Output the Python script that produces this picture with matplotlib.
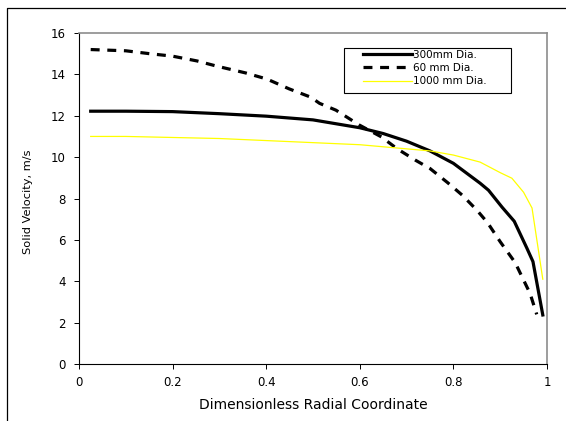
import matplotlib
matplotlib.use("Agg")
import matplotlib.pyplot as plt
from matplotlib.lines import Line2D
from matplotlib.patches import Rectangle

# Radial velocity profiles of the solid phase for three pipe diameters
r_300 = [0.025, 0.1, 0.2, 0.3, 0.4, 0.5, 0.6, 0.65, 0.7, 0.75, 0.8,
         0.857, 0.875, 0.904, 0.93, 0.957, 0.97, 0.991]
v_300 = [12.22, 12.22, 12.2, 12.1, 11.98, 11.8, 11.42, 11.14, 10.77, 10.3, 9.7,
         8.74, 8.4, 7.58, 6.9, 5.6, 4.95, 2.37]

r_60 = [0.025, 0.1, 0.151, 0.2, 0.252, 0.294, 0.356, 0.402, 0.449, 0.495, 0.514,
        0.549, 0.599, 0.646, 0.68, 0.719, 0.75, 0.788, 0.819, 0.85, 0.873,
        0.9, 0.932, 0.964, 0.978]
v_60 = [15.2, 15.14, 15.0, 14.88, 14.65, 14.4, 14.07, 13.77, 13.3, 12.9, 12.6,
        12.27, 11.55, 10.98, 10.4, 9.85, 9.45, 8.76, 8.16, 7.44, 6.83,
        5.91, 4.9, 3.4, 2.4]

r_1000 = [0.025, 0.1, 0.2, 0.3, 0.4, 0.5, 0.6, 0.7, 0.75, 0.8, 0.857,
          0.9, 0.925, 0.95, 0.968, 0.991]
v_1000 = [11.0, 11.0, 10.95, 10.9, 10.8, 10.7, 10.6, 10.4, 10.3, 10.1, 9.76,
          9.25, 8.98, 8.3, 7.54, 4.1]

labels = ["300mm Dia.", "60 mm Dia.", "1000 mm Dia."]
x_ticks = [0, 0.2, 0.4, 0.6, 0.8, 1.0]
x_ticklabels = ["0", "0.2", "0.4", "0.6", "0.8", "1"]
y_ticks = [0, 2, 4, 6, 8, 10, 12, 14, 16]

W, H = 566, 421
fig = plt.figure(figsize=(W / 100, H / 100), dpi=100)
fig.patch.set_facecolor("white")

# plot area in pixels: x 79..547, y 33..364
ax = fig.add_axes([79 / W, 1 - 364 / H, (547 - 79) / W, (364 - 33) / H])

ax.plot(r_300, v_300, color="black", linewidth=2.3, label=labels[0],
        solid_joinstyle="round")
ax.plot(r_60, v_60, color="black", linewidth=2.3, linestyle=(0, (2.8, 2.4)),
        label=labels[1])
ax.plot(r_1000, v_1000, color="#ffff00", linewidth=0.9, label=labels[2])

ax.set_xlim(0, 1)
ax.set_ylim(0, 16)
ax.set_xticks(x_ticks)
ax.set_xticklabels(x_ticklabels)
ax.set_yticks(y_ticks)
ax.tick_params(direction="out", length=3.6, width=0.7, labelsize=8.5,
               colors="black")
ax.tick_params(axis="y", pad=6)
ax.tick_params(axis="x", pad=5)

for side in ("left", "bottom"):
    ax.spines[side].set_color("black")
    ax.spines[side].set_linewidth(0.8)
for side in ("top", "right"):
    ax.spines[side].set_color("#8c8c8c")
    ax.spines[side].set_linewidth(1.2)

ax.set_xlabel("Dimensionless Radial Coordinate", fontsize=10)
ax.xaxis.set_label_coords(0.5, -0.103)
ax.set_ylabel("Solid Velocity, m/s", fontsize=8.2)
ax.yaxis.set_label_coords(-0.098, 0.49)

# legend box drawn separately so it can be wider than its contents
ax.add_patch(Rectangle((344 / W, 1 - 93 / H), 167 / W, 45 / H,
                       transform=fig.transFigure, facecolor="white",
                       edgecolor="black", linewidth=0.8, zorder=4))
leg = ax.legend(loc="upper left", bbox_to_anchor=(363 / W, 1 - 50 / H),
                bbox_transform=fig.transFigure, frameon=False, fontsize=7.5,
                handlelength=4.7, handletextpad=0.1, borderpad=0,
                borderaxespad=0, labelspacing=0.3)
leg.set_zorder(5)

# outer chart border (left and top edges)
fig.add_artist(Line2D([7 / W, 7 / W, 1], [0, 1 - 8 / H, 1 - 8 / H],
                      transform=fig.transFigure, color="black", linewidth=0.9))

fig.savefig("out.png", dpi=100)
